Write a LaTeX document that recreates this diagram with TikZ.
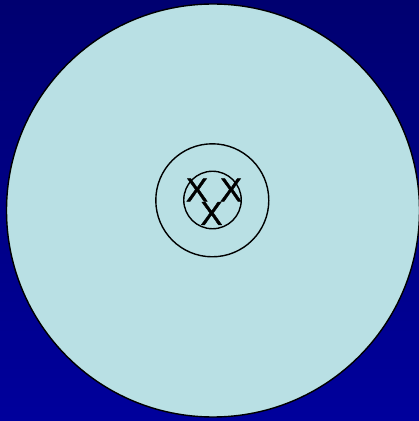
\documentclass[tikz,border=0pt]{standalone}
\usepackage{fontspec}
\setmainfont{Liberation Sans}
\newfontfamily\xfont{Liberation Sans}[FakeBold=1.2]
\definecolor{bgtop}{HTML}{000070}
\definecolor{bgbot}{HTML}{00009C}
\definecolor{cellfill}{HTML}{B9E0E4}
\tikzset{
  ring/.style={draw=black, line width=1.4pt},
  xlabel/.style={inner sep=0pt, font=\xfont\fontsize{33}{33}\selectfont, text=black}
}
\begin{document}
\begin{tikzpicture}[x=1pt,y=1pt]
\useasboundingbox (0,0) rectangle (419,421);
\shade[top color=bgtop, bottom color=bgbot] (0,0) rectangle (419,421);
\node[ring, circle, fill=cellfill, minimum size=413pt, inner sep=0pt] (cell) at (213,210.5) {};
\node[ring, circle, minimum size=113pt, inner sep=0pt] (nucleus) at (212.3,220.7) {};
\node[ring, circle, minimum size=57.5pt, inner sep=0pt] (core) at (212.5,221) {};
\node[xlabel] (x1) at (197,231) {X};
\node[xlabel] (x2) at (231,231) {X};
\node[xlabel] (x3) at (211.5,207.5) {X};
\end{tikzpicture}
\end{document}
